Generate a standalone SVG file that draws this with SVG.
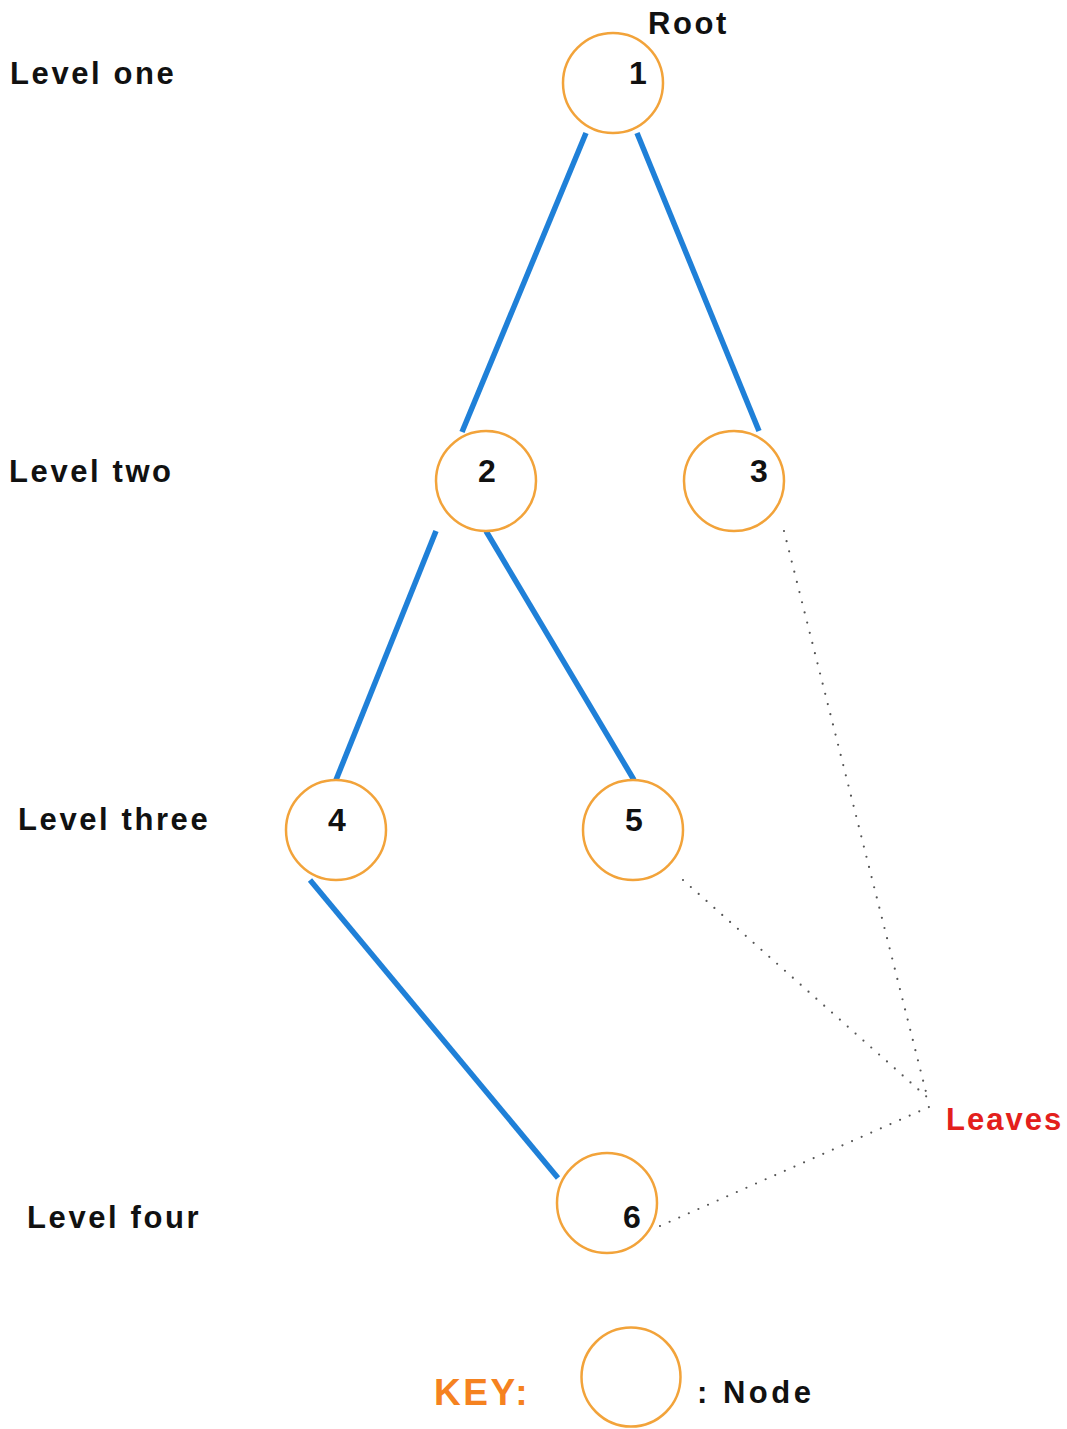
<svg xmlns="http://www.w3.org/2000/svg" width="1067" height="1429" viewBox="0 0 1067 1429">
<style>
.node{fill:#ffffff;stroke:#f2a33a;stroke-width:2.5}
.edge{stroke:#1f80d8;stroke-width:5.5;fill:none}
.dot{stroke:#555;stroke-width:2.2;stroke-linecap:round;stroke-dasharray:0 10.5;fill:none}
.lbl{font-family:"Liberation Sans",Arial,sans-serif;font-weight:bold;font-size:31px;fill:#111;letter-spacing:2.6px}
.num{font-family:"Liberation Sans",Arial,sans-serif;font-weight:bold;font-size:32px;fill:#111;text-anchor:middle}
</style>
<rect width="1067" height="1429" fill="#ffffff"/>
<g id="connectors">
<line class="edge" x1="586" y1="133" x2="462" y2="432"/>
<line class="edge" x1="637" y1="133" x2="759" y2="431"/>
<line class="edge" x1="436" y1="531" x2="336" y2="780"/>
<line class="edge" x1="486" y1="531" x2="634" y2="780"/>
<line class="edge" x1="310" y1="880" x2="558" y2="1178"/>
<line class="dot" x1="784" y1="531" x2="928" y2="1100"/>
<line class="dot" x1="683" y1="880" x2="928" y2="1098"/>
<line class="dot" x1="660" y1="1226" x2="929" y2="1107"/>
</g>
<g id="node1"><circle class="node" cx="613" cy="83" r="50"/><text class="num" x="638" y="84">1</text></g>
<g id="node2"><circle class="node" cx="486" cy="481" r="50"/><text class="num" x="487" y="482">2</text></g>
<g id="node3"><circle class="node" cx="734" cy="481" r="50"/><text class="num" x="759" y="482">3</text></g>
<g id="node4"><circle class="node" cx="336" cy="830" r="50"/><text class="num" x="337" y="831">4</text></g>
<g id="node5"><circle class="node" cx="633" cy="830" r="50"/><text class="num" x="634" y="831">5</text></g>
<g id="node6"><circle class="node" cx="607" cy="1203" r="50"/><text class="num" x="632" y="1228">6</text></g>
<g id="key-node"><circle class="node" cx="631" cy="1377" r="49.5"/></g>
<g id="labels">
<text class="lbl" x="10" y="84">Level one</text>
<text class="lbl" x="9" y="482">Level two</text>
<text class="lbl" x="18" y="830">Level three</text>
<text class="lbl" x="27" y="1228">Level four</text>
<text class="lbl" x="648" y="34">Root</text>
<text class="lbl" x="946" y="1130" style="fill:#e3201c;letter-spacing:2px">Leaves</text>
<text class="lbl" x="434" y="1405" style="fill:#f58220;font-size:37px">KEY:</text>
<text class="lbl" x="697" y="1403" style="letter-spacing:3.5px">: Node</text>
</g>
</svg>
